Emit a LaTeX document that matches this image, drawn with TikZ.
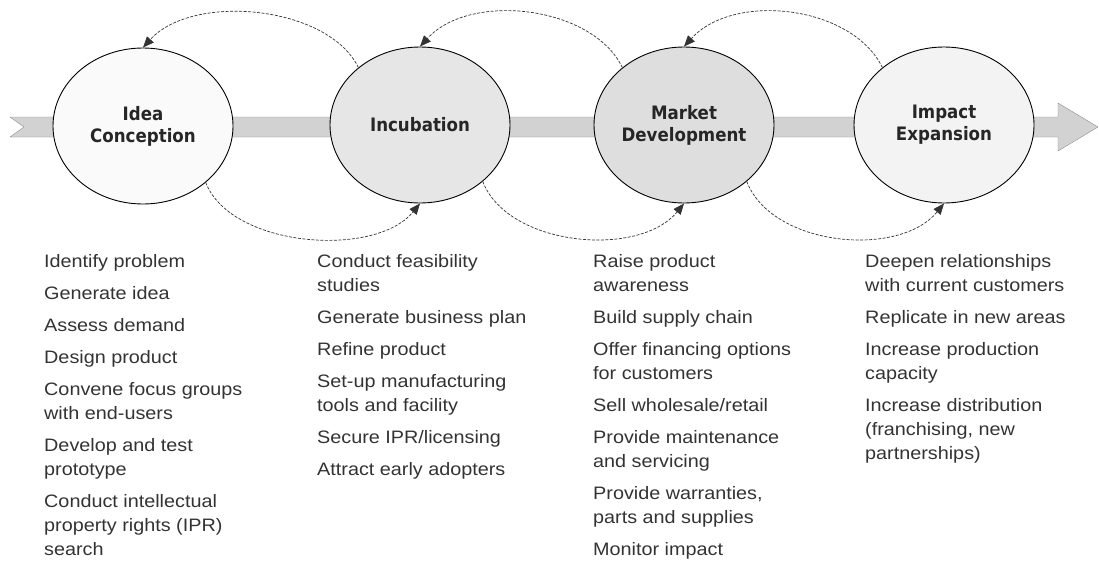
\documentclass[tikz,border=0pt]{standalone}
\usepackage{fontspec}
\setmainfont{Liberation Sans}[FakeStretch=1.1]
\newfontfamily\stagefont{DejaVu Sans}[FakeStretch=0.9]
\usetikzlibrary{shapes.geometric,arrows.meta}
\definecolor{bandfill}{HTML}{D2D2D2}
\definecolor{ideafill}{HTML}{FAFAFA}
\definecolor{incubfill}{HTML}{E6E6E6}
\definecolor{marketfill}{HTML}{DEDEDE}
\definecolor{impactfill}{HTML}{F3F3F3}
\begin{document}
\begin{tikzpicture}[x=1pt, y=-1pt,
    stage/.style={ellipse, draw=black, line width=.9pt, minimum width=180pt,
      minimum height=156pt, inner sep=0pt, align=center, text=black!85,
      font=\stagefont\bfseries\fontsize{18.5}{22}\selectfont},
    loop/.style={draw=black!80, line width=.7pt, dash pattern=on 3pt off 1.5pt,
      -{Triangle[length=11pt,width=9pt]}},
    tasks/.style={anchor=north west, inner sep=0pt, align=left, text=black!80,
      font=\fontsize{18}{24}\selectfont}]
  \useasboundingbox (0,0) rectangle (1099,565);
  % the band behind the stages
  \draw[draw=black!45, fill=bandfill] (10,117) -- (1058,117) -- (1058,103) -- (1098,127)
    -- (1058,151) -- (1058,137) -- (10,137) -- (24,127) -- cycle;
  % stages
  \node[stage, fill=ideafill] (idea) at (143,126) {Idea\\Conception};
  \node[stage, fill=incubfill] (incub) at (420,125) {Incubation};
  \node[stage, fill=marketfill] (market) at (684,125) {Market\\Development};
  \node[stage, fill=impactfill] (impact) at (944,125) {Impact\\Expansion};
  % feedback loops
  \draw[loop] (incub.137) .. controls +(-30,-62) and +(50,-55) .. (idea.north);
  \draw[loop] (market.137) .. controls +(-30,-62) and +(50,-55) .. (incub.north);
  \draw[loop] (impact.137) .. controls +(-30,-62) and +(50,-55) .. (market.north);
  \draw[loop] (idea.-42) .. controls +(25,65) and +(-45,55) .. (incub.south);
  \draw[loop] (incub.-42) .. controls +(25,65) and +(-45,55) .. (market.south);
  \draw[loop] (market.-42) .. controls +(25,65) and +(-45,55) .. (impact.south);
  % activities
  \node[tasks] (ideatasks) at (44,254) {Identify problem\\[8pt]
    Generate idea\\[8pt]
    Assess demand\\[8pt]
    Design product\\[8pt]
    Convene focus groups\\ with end-users\\[8pt]
    Develop and test\\ prototype\\[8pt]
    Conduct intellectual\\ property rights (IPR)\\ search};
  \node[tasks] (incubtasks) at (317,254) {Conduct feasibility\\ studies\\[8pt]
    Generate business plan\\[8pt]
    Refine product\\[8pt]
    Set-up manufacturing\\ tools and facility\\[8pt]
    Secure IPR/licensing\\[8pt]
    Attract early adopters};
  \node[tasks] (markettasks) at (593,254) {Raise product\\ awareness\\[8pt]
    Build supply chain\\[8pt]
    Offer financing options\\ for customers\\[8pt]
    Sell wholesale/retail\\[8pt]
    Provide maintenance\\ and servicing\\[8pt]
    Provide warranties,\\ parts and supplies\\[8pt]
    Monitor impact};
  \node[tasks] (impacttasks) at (865,254) {Deepen relationships\\ with current customers\\[8pt]
    Replicate in new areas\\[8pt]
    Increase production\\ capacity\\[8pt]
    Increase distribution\\ (franchising, new\\ partnerships)};
\end{tikzpicture}
\end{document}
